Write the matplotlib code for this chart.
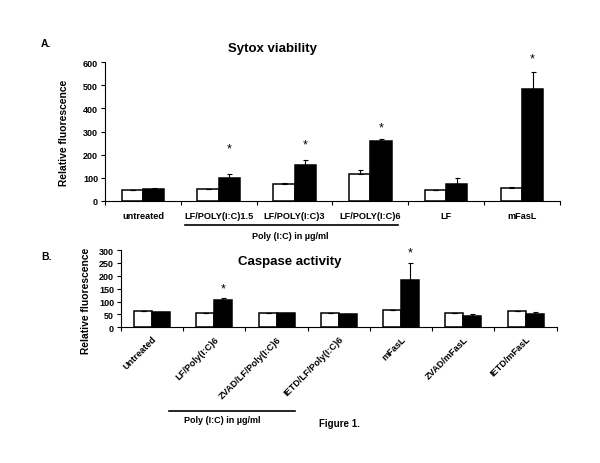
import numpy as np
import matplotlib
matplotlib.use('Agg')
from matplotlib import pyplot as plt

plt.rcParams['font.family'] = ['Liberation Sans', 'DejaVu Sans']

# Panel A: Sytox viability
a_labels = ['untreated', 'LF/POLY(I:C)1.5', 'LF/POLY(I:C)3', 'LF/POLY(I:C)6', 'LF', 'mFasL']
a_white = [45, 50, 72, 115, 47, 55]
a_white_err = [0, 0, 7, 20, 0, 7]
a_black = [50, 100, 155, 260, 73, 485]
a_black_err = [4, 18, 20, 8, 25, 75]
a_star_idx = [1, 2, 3, 5]
a_star_y = [228, 245, 320, 618]

# Panel B: Caspase activity
b_labels = ['Untreated', 'LF/Poly(I:C)6', 'ZVAD/LF/Poly(I:C)6', 'IETD/LF/Poly(I:C)6',
            'mFasL', 'ZVAD/mFasL', 'IETD/mFasL']
b_white = [62, 57, 56, 57, 66, 56, 63]
b_white_err = [0, 0, 0, 0, 0, 0, 0]
b_black = [58, 104, 54, 52, 183, 45, 50]
b_black_err = [0, 9, 0, 0, 67, 6, 8]
b_star_idx = [1, 4]
b_star_y = [150, 292]


def draw_panel(ax, labels, white, werr, black, berr, ymax, ystep, width):
    n = len(labels)
    x = np.arange(n)
    zeros = np.zeros(n)
    ax.bar(x - width / 2, white, width, color='white', edgecolor='black', linewidth=1.1,
           yerr=[zeros, werr], error_kw=dict(ecolor='black', elinewidth=0.8, capsize=1.8, capthick=0.8))
    ax.bar(x + width / 2, black, width, color='black', edgecolor='black', linewidth=1.1,
           yerr=[zeros, berr], error_kw=dict(ecolor='black', elinewidth=0.8, capsize=1.8, capthick=0.8))
    ax.set_xlim(-0.5, n - 0.5)
    ax.set_ylim(0, ymax)
    ax.set_yticks(np.arange(0, ymax + 1, ystep))
    ax.set_xticks(x)
    ax.set_xticks(np.arange(n + 1) - 0.5, minor=True)
    ax.tick_params(axis='x', which='major', length=0)
    ax.tick_params(axis='x', which='minor', length=3, width=0.8, direction='out')
    ax.tick_params(axis='y', length=3, width=0.8, direction='out', labelsize=6.5, pad=2)
    for s in ['top', 'right']:
        ax.spines[s].set_visible(False)
    for s in ['left', 'bottom']:
        ax.spines[s].set_linewidth(0.8)
    for t in ax.get_yticklabels():
        t.set_fontweight('bold')
    ax.set_ylabel('Relative fluorescence', fontsize=7.4, fontweight='bold')
    return x


fig = plt.figure(figsize=(6, 4.64), dpi=100)

# ----- A -----
axA = fig.add_axes([0.175, 0.565, 0.758, 0.2986])
xA = draw_panel(axA, a_labels, a_white, a_white_err, a_black, a_black_err, 600, 100, 0.28)
axA.set_xticklabels(a_labels, fontsize=6.6, fontweight='bold')
axA.tick_params(axis='x', which='major', pad=7)
axA.yaxis.set_label_coords(-0.08, 0.5)
for i, yv in zip(a_star_idx, a_star_y):
    axA.text(xA[i] + 0.14, yv, '*', ha='center', va='center', fontsize=9, clip_on=False)
fig.text(0.455, 0.895, 'Sytox viability', ha='center', va='center', fontsize=9.5, fontweight='bold')
fig.text(0.068, 0.905, 'A.', ha='left', va='center', fontsize=7.5, fontweight='bold')
fig.add_artist(plt.Line2D([185 / 600, 398 / 600], [1 - 226 / 464, 1 - 226 / 464],
                          color='black', linewidth=1.2))
fig.text(290 / 600, 1 - 237 / 464, 'Poly (I:C) in \u00b5g/ml', ha='center', va='center',
         fontsize=6.5, fontweight='bold')

# ----- B -----
axB = fig.add_axes([0.2017, 0.2925, 0.7261, 0.1665])
xB = draw_panel(axB, b_labels, b_white, b_white_err, b_black, b_black_err, 300, 50, 0.29)
axB.set_xticklabels(b_labels, fontsize=6.6, fontweight='bold', rotation=45,
                    ha='right', va='top', rotation_mode='anchor')
axB.tick_params(axis='x', which='major', pad=5)
axB.yaxis.set_label_coords(-0.068, 0.35)
for i, yv in zip(b_star_idx, b_star_y):
    axB.text(xB[i] + 0.145, yv, '*', ha='center', va='center', fontsize=9, clip_on=False)
fig.text(290 / 600, 1 - 262 / 464, 'Caspase activity', ha='center', va='center',
         fontsize=9.5, fontweight='bold')
fig.text(0.068, 1 - 257 / 464, 'B.', ha='left', va='center', fontsize=7.5, fontweight='bold')
fig.add_artist(plt.Line2D([169 / 600, 295 / 600], [1 - 412 / 464, 1 - 412 / 464],
                          color='black', linewidth=1.2))
fig.text(222 / 600, 1 - 421 / 464, 'Poly (I:C) in \u00b5g/ml', ha='center', va='center',
         fontsize=6.5, fontweight='bold')
fig.text(319 / 600, 1 - 424 / 464, 'Figure 1.', ha='left', va='center', fontsize=7,
         fontweight='bold')

fig.savefig('out.png', dpi=100)
